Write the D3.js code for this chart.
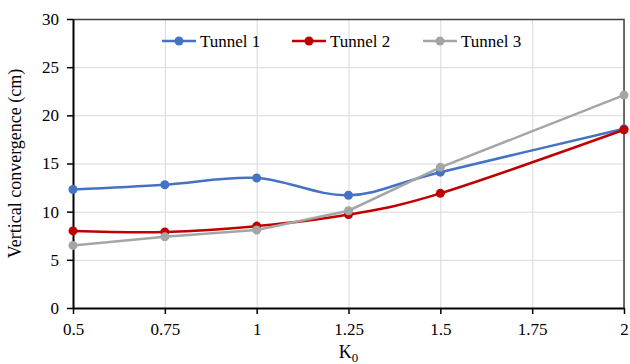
<!DOCTYPE html>
<html>
<head>
<meta charset="utf-8">
<script src="https://cdn.jsdelivr.net/npm/d3@7"></script>
<style>
  body { margin: 0; background: #fff; }
  svg text { font-family: "Liberation Serif", "Times New Roman", serif; fill: #000; }
  .grid line { stroke: #d9d9d9; stroke-width: 1; }
  .grid .domain { display: none; }
</style>
</head>
<body>
<div id="chart"></div>
<script>
var k0 = [0.5, 0.75, 1, 1.25, 1.5, 2];
var xTicks = [0.5, 0.75, 1, 1.25, 1.5, 1.75, 2];
var yTicks = [0, 5, 10, 15, 20, 25, 30];
var tunnel1 = [12.3, 12.8, 13.5, 11.7, 14.1, 18.6];
var tunnel2 = [8.0, 7.9, 8.5, 9.7, 11.9, 18.5];
var tunnel3 = [6.5, 7.4, 8.1, 10.1, 14.6, 22.1];
var names = ["Tunnel 1", "Tunnel 2", "Tunnel 3"];
var colors = ["#4472c4", "#c00000", "#a5a5a5"];

var margin = {top: 19, right: 6, bottom: 56, left: 73},
    width = 630 - margin.left - margin.right,
    height = 364 - margin.top - margin.bottom;

var x = d3.scaleLinear().domain([0.5, 2]).range([0, width]);
var y = d3.scaleLinear().domain([0, 30]).range([height, 0]);

var svg = d3.select("#chart").append("svg")
    .attr("width", 630)
    .attr("height", 364)
    .append("g")
    .attr("transform", "translate(" + margin.left + "," + margin.top + ")");

// gridlines
svg.append("g")
    .attr("class", "grid")
    .call(d3.axisLeft(y).tickValues(yTicks).tickSize(-width).tickFormat(""));
svg.append("g")
    .attr("class", "grid")
    .attr("transform", "translate(0," + height + ")")
    .call(d3.axisBottom(x).tickValues(xTicks).tickSize(-height).tickFormat(""));

// top and right border
svg.append("path")
    .attr("d", "M0,0.5H" + width + "V" + height)
    .attr("fill", "none")
    .attr("stroke", "#404040")
    .attr("stroke-width", 1.5);

// axes
var yAxis = svg.append("g")
    .call(d3.axisLeft(y).tickValues(yTicks).tickSize(6).tickSizeOuter(0));
var xAxis = svg.append("g")
    .attr("transform", "translate(0," + height + ")")
    .call(d3.axisBottom(x).tickValues(xTicks).tickSize(6).tickSizeOuter(0)
        .tickFormat(function(d) { return String(d); }));

[xAxis, yAxis].forEach(function(a) {
    a.attr("font-family", "Liberation Serif").attr("font-size", 17);
    a.select(".domain").attr("stroke", "#000").attr("stroke-width", 2);
    a.selectAll(".tick line").attr("stroke", "#000").attr("stroke-width", 1.5);
    a.selectAll("text").attr("fill", "#000").style("font-size", "17px");
});
yAxis.selectAll("text").attr("x", -14);
xAxis.selectAll("text").attr("y", 15);

// axis titles
svg.append("text")
    .attr("transform", "rotate(-90)")
    .attr("x", -height / 2)
    .attr("y", -52)
    .attr("text-anchor", "middle")
    .style("font-size", "18px")
    .text("Vertical convergence (cm)");

var kt = svg.append("text")
    .attr("x", x(1.25))
    .attr("y", height + 50)
    .attr("text-anchor", "middle")
    .style("font-size", "18px");
kt.append("tspan").text("K");
kt.append("tspan").attr("dy", 4).style("font-size", "13px").text("0");

// series
var series = [tunnel1, tunnel2, tunnel3];
var curves = [d3.curveCardinal.tension(0), d3.curveCardinal.tension(0), d3.curveLinear];

series.forEach(function(vals, i) {
    var pts = k0.map(function(k, j) { return {k: k, v: vals[j]}; });
    var line = d3.line()
        .curve(curves[i])
        .x(function(d) { return x(d.k); })
        .y(function(d) { return y(d.v); });
    svg.append("path")
        .datum(pts)
        .attr("fill", "none")
        .attr("stroke", colors[i])
        .attr("stroke-width", 2.5)
        .attr("d", line);
    svg.selectAll(".pt" + i)
        .data(pts)
        .enter().append("circle")
        .attr("class", "pt" + i)
        .attr("cx", function(d) { return x(d.k); })
        .attr("cy", function(d) { return y(d.v); })
        .attr("r", 4.5)
        .attr("fill", colors[i]);
});

// legend
var legX = [89, 219, 350];
var legend = svg.append("g").attr("transform", "translate(0,22)");
names.forEach(function(n, i) {
    var g = legend.append("g").attr("transform", "translate(" + legX[i] + ",0)");
    g.append("line").attr("x1", 0).attr("x2", 34).attr("y1", 0).attr("y2", 0)
        .attr("stroke", colors[i]).attr("stroke-width", 2.5);
    g.append("circle").attr("cx", 17).attr("cy", 0).attr("r", 4.5).attr("fill", colors[i]);
    g.append("text").attr("x", 38).attr("y", 6).style("font-size", "17px").text(n);
});
</script>
</body>
</html>
